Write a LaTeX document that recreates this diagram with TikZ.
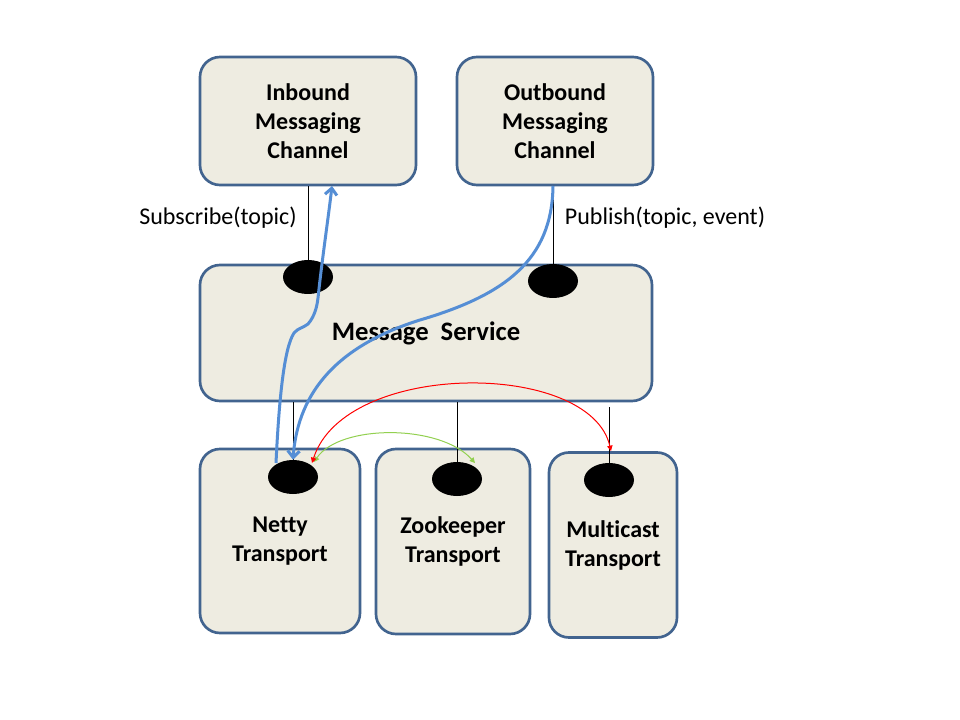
\documentclass[tikz,border=0pt]{standalone}
\usepackage{fontspec}
\setmainfont{Carlito}[Ligatures=NoCommon]
\usetikzlibrary{shapes.geometric,arrows.meta}
\definecolor{boxfill}{HTML}{EEECE1}
\definecolor{boxline}{HTML}{42648F}
\definecolor{flowblue}{HTML}{558ED5}
\definecolor{grn}{HTML}{92D050}
\begin{document}
\begin{tikzpicture}[x=0.75pt,y=-0.75pt,
  box/.style={draw=boxline, line width=2pt, fill=boxfill, rounded corners=15pt,
    align=center, font=\bfseries\fontsize{18}{21.8}\selectfont, inner sep=0pt},
  port/.style={ellipse, fill=black, minimum width=37.5pt, minimum height=25.5pt, inner sep=0pt},
  link/.style={black, line width=0.75pt},
  flow/.style={flowblue, line width=2.25pt, -{Straight Barb[length=5pt,width=9pt]}},
  thinarc/.style={line width=0.75pt, {Triangle[length=4pt,width=4pt]}-{Triangle[length=4pt,width=4pt]}},
  lbl/.style={font=\fontsize{18}{21.6}\selectfont, inner sep=0pt}]
\useasboundingbox (0,0) rectangle (960,720);
\fill[white] (0,0) rectangle (960,720);

% boxes
\node[box, minimum width=162pt, minimum height=96pt] (in) at (308,121) {Inbound\\Messaging\\Channel};
\node[box, minimum width=147pt, minimum height=96pt] (out) at (555,121) {Outbound\\Messaging\\Channel};
\node[box, minimum width=339pt, minimum height=102pt, font=\bfseries\fontsize{20}{24}\selectfont] (ms) at (426,333) {Message\hspace{0.45em}Service};
\node[box, minimum width=120pt, minimum height=138pt] (netty) at (280,541) {Netty\\Transport};
\node[box, minimum width=115.5pt, minimum height=138.75pt] (zoo) at (453,541.5) {Zookeeper\\Transport};
\node[box, minimum width=96pt, minimum height=138.75pt] (multi) at (613,545) {Multicast\\Transport};

% ports
\node[port] (pIn) at (308,277) {};
\node[port] (pOut) at (553,281) {};
\node[port] (pNetty) at (293,477) {};
\node[port] (pZoo) at (457,479) {};
\node[port] (pMulti) at (609,480) {};

% labels
\node[lbl] (sub) at (218,218) {Subscribe(topic)};
\node[lbl] (pub) at (665,218) {Publish(topic, event)};

% thin black links
\draw[link] (in.south) -- (pIn.north);
\draw[link] (pOut.north |- out.south) -- (pOut.north);
\draw[link] (pNetty.north |- ms.south) -- (pNetty.north);
\draw[link] (pZoo.north |- ms.south) -- (pZoo.north);
\coordinate (mtop) at (609,407);
\draw[link] (mtop) -- (pMulti.north);

% green and red arcs
\coordinate (gL) at (314,462);
\coordinate (gR) at (475,463);
\draw[thinarc, grn] (gL) .. controls (340,424) and (440,424) .. (gR);
\coordinate (rL) at (312,463);
\coordinate (rR) at (611,451);
\draw[thinarc, red] (rL) .. controls (345,360) and (590,360) .. (rR);

% blue flows
\coordinate (b1s) at (276,463);
\coordinate (b1e) at (332,186);
\draw[flow] (b1s) .. controls (279,400) and (284,348) .. (294,333)
  .. controls (298,328) and (303,328) .. (308,324)
  .. controls (315,316) and (317,306) .. (318,298)
  .. controls (322,260) and (328,220) .. (b1e);
\coordinate (b2s) at (553,186);
\draw[flow] (b2s) .. controls (552,260) and (505,295) .. (420,320)
  .. controls (340,345) and (298,390) .. (pNetty.north);
\end{tikzpicture}
\end{document}
